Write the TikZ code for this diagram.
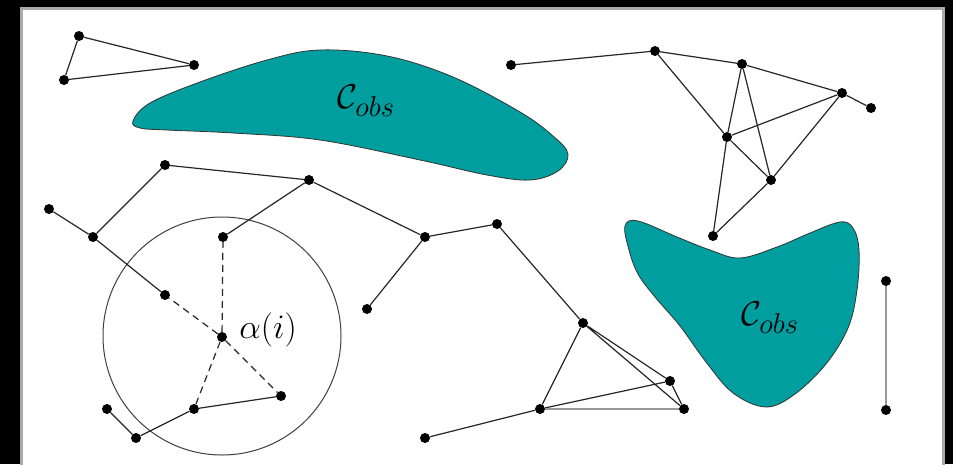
\documentclass[tikz,border=0pt]{standalone}
\usetikzlibrary{calc}
\definecolor{obst}{RGB}{0,158,158}
\definecolor{frame}{RGB}{170,170,170}
\tikzset{
  dot/.style={circle,fill=black,inner sep=0pt,minimum size=10pt},
  edge/.style={draw=black!85,line width=1.2pt},
  flat/.style={draw=black!40,line width=2.2pt},
  dsh/.style={draw=black!85,line width=1.2pt,dash pattern=on 7pt off 5pt},
  obstacle/.style={fill=obst,draw=black!80,line width=0.8pt},
  lbl/.style={inner sep=0pt,font=\fontsize{24.88}{30}\selectfont,scale=1.38}
}
\begin{document}
\begin{tikzpicture}[x=1pt,y=-1pt]
\useasboundingbox (0,0) rectangle (953,464);
\fill[black] (0,0) rectangle (953,464);
\draw[fill=white,draw=frame,line width=3pt] (21,8) rectangle (943,475);

% obstacles
\path[obstacle] plot[smooth cycle,tension=0.6] coordinates {
 (133,121) (150,103) (200,82) (267,60) (320,50) (387,56) (453,77) (520,112)
 (553,136) (568,154) (558,171) (530,180) (487,175) (420,160) (320,140)
 (233,133) (167,130) (140,128)};
\node[lbl] (cobs1) at (366,101) {$\mathcal{C}_{obs}$};

\path[obstacle] plot[smooth cycle,tension=0.6] coordinates {
 (625,226) (629,250) (638,274) (655,297) (680,326) (706,362) (733,393)
 (766,407) (795,394) (826,364) (848,328) (857,290) (859,250) (853,228)
 (840,222) (810,233) (777,247) (740,258) (710,250) (677,237) (638,221)};
\node[lbl] (cobs2) at (770,318) {$\mathcal{C}_{obs}$};

% circle
\draw[black!75,line width=1pt] (222,336) circle (119);

% nodes
\node[dot] (A1) at (79,36) {};
\node[dot] (A2) at (64,80) {};
\node[dot] (A3) at (194,65) {};

\node[dot] (B1) at (49,209) {};
\node[dot] (B2) at (93,237) {};
\node[dot] (B3) at (165,165) {};
\node[dot] (B4) at (309,180) {};
\node[dot] (B5) at (223,237) {};
\node[dot] (B6) at (425,237) {};
\node[dot] (B7) at (497,224) {};
\node[dot] (B8) at (367,309) {};
\node[dot] (B9) at (583,323) {};
\node[dot] (B10) at (540,409) {};
\node[dot] (B11) at (425,438) {};
\node[dot] (B12) at (670,381) {};
\node[dot] (B13) at (684,409) {};

\node[dot] (AL) at (222,337) {};
\node[dot] (C1) at (165,295) {};
\node[dot] (C2) at (281,396) {};
\node[dot] (C3) at (194,409) {};
\node[dot] (C4) at (136,438) {};
\node[dot] (C5) at (107,409) {};

\node[dot] (D1) at (886,281) {};
\node[dot] (D2) at (886,410) {};

\node[dot] (E1) at (511,65) {};
\node[dot] (E2) at (655,51) {};
\node[dot] (E3) at (742,64) {};
\node[dot] (E4) at (842,93) {};
\node[dot] (E5) at (871,108) {};
\node[dot] (E6) at (727,137) {};
\node[dot] (E7) at (771,180) {};
\node[dot] (E8) at (713,236) {};

\node[lbl,anchor=west] (alab) at (239,330) {$\alpha(i)$};

% edges
\path[edge] (A1) -- (A2) (A2) -- (A3) (A3) -- (A1);
\path[edge] (B1) -- (B2) (B2) -- (B3) (B3) -- (B4) (B4) -- (B5) (B4) -- (B6)
  (B6) -- (B7) (B6) -- (B8) (B7) -- (B9) (B9) -- (B10) (B9) -- (B12)
  (B9) -- (B13) (B10) -- (B11) (B10) -- (B12) (B12) -- (B13);
\path[flat] (B10) -- (B13);
\path[edge] (B2) -- (C1) (C3) -- (C2) (C3) -- (C4) (C4) -- (C5);
\path[dsh] (AL) -- (C1) (AL) -- (B5) (AL) -- (C2) (AL) -- (C3);
\path[flat] (D1) -- (D2);
\path[edge] (E1) -- (E2) (E2) -- (E3) (E3) -- (E4) (E4) -- (E5) (E2) -- (E6)
  (E3) -- (E6) (E3) -- (E7) (E6) -- (E4) (E6) -- (E7) (E4) -- (E7)
  (E6) -- (E8) (E7) -- (E8);
\end{tikzpicture}
\end{document}
